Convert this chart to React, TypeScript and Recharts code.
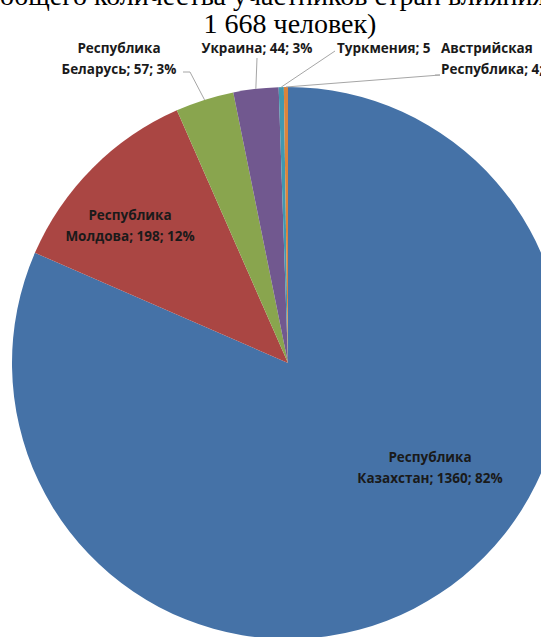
import { PieChart, Pie, Cell } from "recharts";

// ── Data ─────────────────────────────────────────────────────────────────────

const countries = [
  "Республика Казахстан",
  "Республика Молдова",
  "Республика Беларусь",
  "Украина",
  "Туркмения",
  "Австрийская Республика",
];
const participants = [1360, 198, 57, 44, 5, 4];
const sliceColors = ["#4572A7", "#AA4643", "#89A54E", "#71588F", "#4198AF", "#DB843D"];

const titleLines = ["общего количества участников стран влияния (всего", "1 668 человек)"];

const pieData = countries.map((name, i) => ({ name, value: participants[i] }));

// ── Label layout (offsets from the pie centre) ───────────────────────────────

type LabelLayout = {
  dx: number;
  dy: number;
  anchor: "start" | "middle" | "end";
  wrap: boolean;
  parts: number;
  leader?: [number, number][];
};

const labelLayout: LabelLayout[] = [
  { dx: 142, dy: 94, anchor: "middle", wrap: true, parts: 3 },
  { dx: -158, dy: -148, anchor: "middle", wrap: true, parts: 3 },
  { dx: -169, dy: -315, anchor: "middle", wrap: true, parts: 3, leader: [[-105, -291], [-98, -291]] },
  { dx: -31, dy: -315, anchor: "middle", wrap: false, parts: 3, leader: [[-31, -305]] },
  { dx: 49, dy: -315, anchor: "start", wrap: false, parts: 2, leader: [[47, -312]] },
  { dx: 153, dy: -315, anchor: "start", wrap: true, parts: 3, leader: [[147, -288], [152, -288]] },
];

const LINE_GAP = 21;
const RAD = Math.PI / 180;

// title line tops (px) – first line sits mostly above the visible area
const titleTops = [-18, 10];

function renderLabel(props: any) {
  const { cx, cy, midAngle, outerRadius, index, value, percent } = props;
  const name = props.name ?? props.payload?.name;
  const lay = labelLayout[index];
  const pct = Math.round(percent * 100) + "%";
  const full = [name, value, pct].slice(0, lay.parts).join("; ");
  const lines = lay.wrap ? [full.slice(0, full.indexOf(" ")), full.slice(full.indexOf(" ") + 1)] : [full];

  let leader = null;
  if (lay.leader) {
    const pts = lay.leader.map(([x, y]) => [cx + x, cy + y]);
    pts.push([cx + outerRadius * Math.cos(-midAngle * RAD), cy + outerRadius * Math.sin(-midAngle * RAD)]);
    leader = <polyline points={pts.map((p) => p.join(",")).join(" ")} fill="none" stroke="#A6A6A6" strokeWidth={1} />;
  }

  return (
    <g key={index}>
      {leader}
      {lines.map((t, j) => (
        <text
          key={j}
          x={cx + lay.dx}
          y={cy + lay.dy + j * LINE_GAP}
          textAnchor={lay.anchor}
          dominantBaseline="central"
          fontFamily="'Open Sans', sans-serif"
          fontWeight={700}
          fontSize={13.5}
          fill="#1A1A1A"
        >
          {t}
        </text>
      ))}
    </g>
  );
}

// ── Main ─────────────────────────────────────────────────────────────────────

export default function App() {
  return (
    <div style={{ position: "absolute", left: 0, top: 0, width: 541, height: 637, overflow: "hidden", background: "#fff" }}>
      {titleLines.map((t, i) => (
        <div key={i} style={{
          position: "absolute", left: 0, top: titleTops[i], width: 580, textAlign: "center",
          fontFamily: "'Liberation Serif', 'Times New Roman', serif", fontSize: 28, lineHeight: "28px",
          color: "#000", whiteSpace: "nowrap",
        }}>
          {t}
        </div>
      ))}
      <div style={{ position: "absolute", left: 0, top: 0 }}>
        <PieChart width={600} height={660} margin={{ top: 0, right: 0, bottom: 0, left: 0 }}>
          <Pie
            data={pieData}
            dataKey="value"
            nameKey="name"
            cx={288}
            cy={363}
            outerRadius={276}
            startAngle={90}
            endAngle={-270}
            stroke="none"
            label={renderLabel}
            labelLine={false}
            isAnimationActive={false}
          >
            {pieData.map((d, i) => <Cell key={d.name} fill={sliceColors[i]} />)}
          </Pie>
        </PieChart>
      </div>
    </div>
  );
}
